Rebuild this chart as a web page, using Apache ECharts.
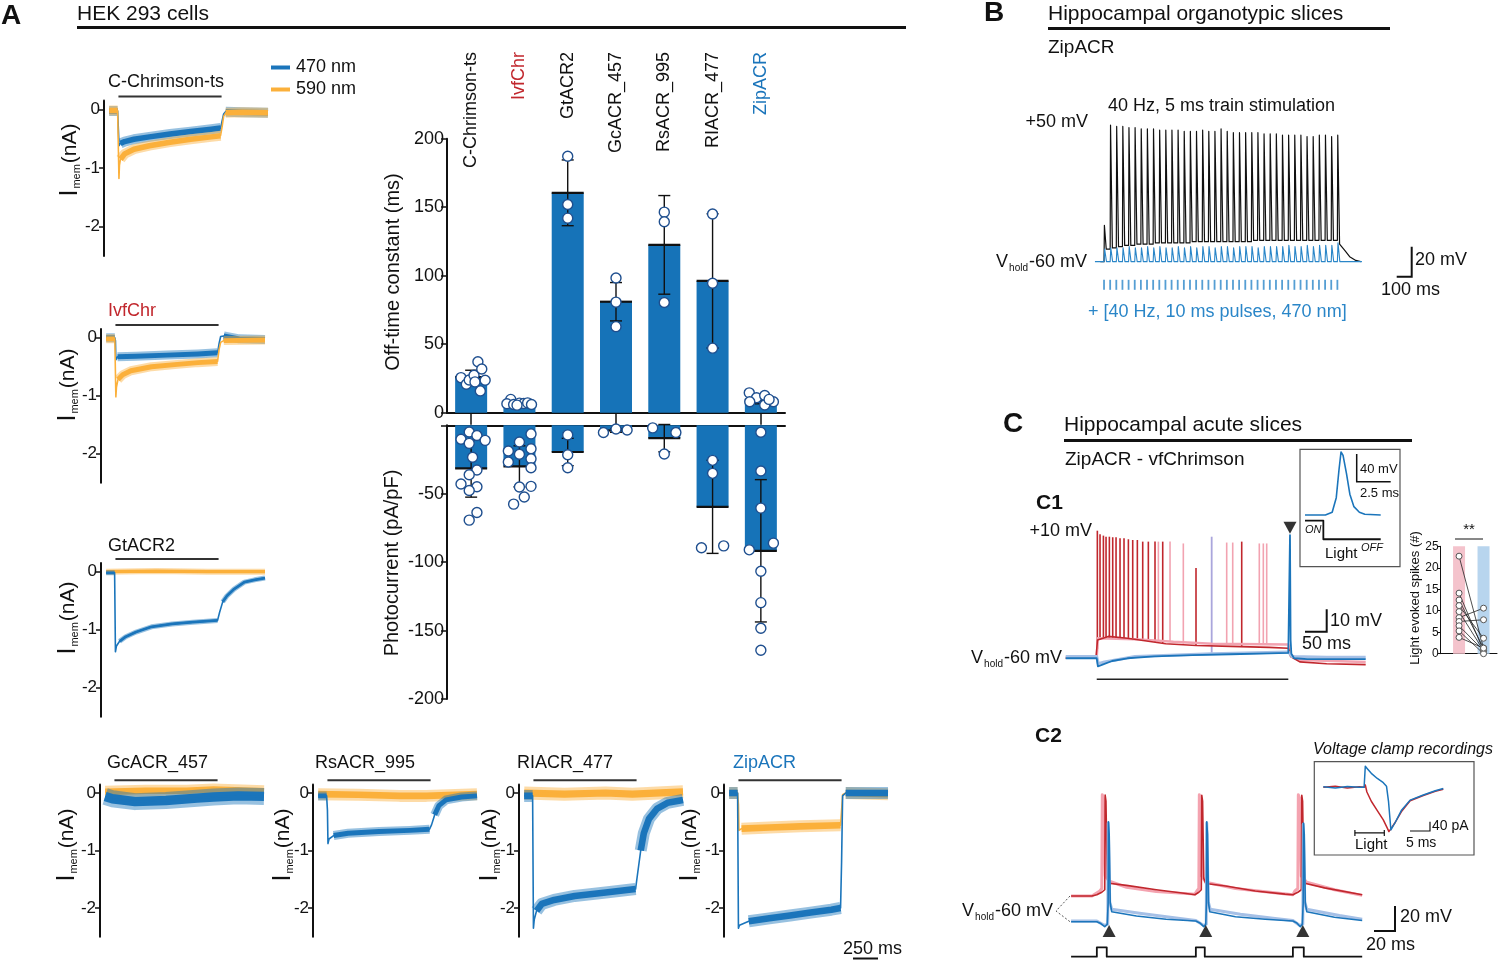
<!DOCTYPE html>
<html>
<head>
<meta charset="utf-8">
<script src="https://cdn.jsdelivr.net/npm/echarts@6/dist/echarts.min.js"></script>
<style>
  html, body { margin: 0; padding: 0; background: #fff; }
  #chart { width: 1500px; height: 961px; }
</style>
</head>
<body>
<div id="chart"></div>
<script>
// ---------- A: HEK 293 photocurrent traces, [ms from light onset, nA] ----------
const chrimsonBlue = [[-90,-0.03],[-8,-0.03],[0,-0.05],[6,-0.62],[20,-0.58],[60,-0.55],[150,-0.51],[300,-0.47],[500,-0.42],[700,-0.38],[900,-0.34],[990,-0.32],[1005,-0.2],[1020,-0.08],[1040,-0.04],[1200,-0.05],[1450,-0.06]];
const chrimsonOrange = [[-90,-0.02],[-8,-0.02],[0,-0.05],[5,-1.18],[10,-0.95],[20,-0.85],[60,-0.76],[150,-0.68],[300,-0.62],[500,-0.56],[700,-0.51],[900,-0.47],[990,-0.45],[1005,-0.3],[1020,-0.12],[1040,-0.06],[1200,-0.05],[1450,-0.06]];
const ivfBlue = [[-90,0],[-6,0],[0,-0.05],[4,-0.38],[20,-0.33],[200,-0.32],[500,-0.3],[800,-0.28],[990,-0.26],[1005,-0.1],[1020,0.02],[1050,0.03],[1200,-0.02],[1450,-0.03]];
const ivfOrange = [[-90,-0.02],[-6,-0.02],[0,-0.05],[4,-1.02],[10,-0.85],[25,-0.72],[70,-0.64],[150,-0.57],[350,-0.5],[600,-0.46],[800,-0.43],[990,-0.41],[1005,-0.2],[1020,-0.08],[1050,-0.05],[1450,-0.04]];
const gtBlue = [[-90,-0.02],[-8,-0.02],[0,-1.38],[10,-1.28],[40,-1.2],[100,-1.12],[200,-1.04],[350,-0.95],[550,-0.9],[750,-0.87],[990,-0.84],[1010,-0.7],[1040,-0.52],[1080,-0.42],[1150,-0.3],[1250,-0.18],[1350,-0.14],[1450,-0.11]];
const gtOrange = [[-90,0],[400,0.01],[900,0],[1450,0]];
const gcBlue = [[-90,-0.06],[-20,-0.1],[200,-0.15],[500,-0.13],[800,-0.09],[960,-0.07],[1200,-0.05],[1450,-0.06]];
const gcOrange = [[-90,0.02],[300,0.04],[700,0.04],[960,0.06],[1450,0.03]];
const rsBlue = [[-90,-0.05],[-8,-0.05],[0,-0.3],[5,-0.88],[15,-0.8],[60,-0.74],[200,-0.7],[500,-0.67],[800,-0.65],[990,-0.63],[1010,-0.55],[1040,-0.38],[1080,-0.22],[1150,-0.12],[1300,-0.07],[1450,-0.05]];
const rsOrange = [[-90,-0.02],[300,-0.03],[700,-0.05],[960,-0.05],[1450,-0.02]];
const rlBlue = [[-90,-0.05],[-8,-0.05],[0,-2.35],[8,-2.2],[30,-2.05],[80,-1.93],[200,-1.86],[400,-1.79],[700,-1.73],[990,-1.67],[1010,-1.4],[1040,-1.0],[1070,-0.7],[1120,-0.45],[1200,-0.27],[1300,-0.17],[1450,-0.12]];
const rlOrange = [[-90,0],[300,-0.02],[700,0],[960,-0.02],[1450,0.02]];
const zipBlue = [[-90,0],[-8,0],[0,-2.35],[10,-2.3],[100,-2.23],[300,-2.18],[500,-2.13],[700,-2.08],[900,-2.03],[990,-2.0],[1000,-1.2],[1010,-0.05],[1040,0],[1450,0]];
const zipOrange = [[-90,0],[-8,0],[0,-0.2],[5,-0.65],[30,-0.62],[300,-0.6],[600,-0.58],[990,-0.56],[1000,-0.3],[1010,-0.03],[1040,0],[1450,-0.02]];

// ---------- A: bar chart ----------
const constructs = ['C-Chrimson-ts', 'IvfChr', 'GtACR2', 'GcACR_457', 'RsACR_995', 'RIACR_477', 'ZipACR'];
const offMean = [26, 7, 160.5, 81, 122.5, 96.2, 9.5];
const offSd = [5, 1.5, 24, 14, 36, 49, 3];
// single cells: [category offset, value]
const offCells = [
  [[-0.21,25.6],[-0.1,20.8],[-0.04,23.9],[0.06,27.3],[0.08,22.5],[0.14,37.2],[0.19,15.9],[0.22,31.9],[0.29,23.7]],
  [[-0.18,9.7],[-0.26,6.5],[-0.12,6],[0,7],[0.09,6.7],[0.17,7.2],[0.25,6],[-0.05,5.5]],
  [[0,187.2],[0,152],[0,142]],
  [[0,98.3],[0,80.7],[0,62.8]],
  [[0,146.4],[0,139.4],[0,80.4]],
  [[0,145],[0,94.5],[0,47.1]],
  [[-0.24,14.5],[-0.09,10.9],[0.08,12.6],[0.26,8],[0.08,5.6],[-0.23,8],[0.17,9.7]]
];
const photoMean = [-31.5, -30, -19.5, -3.8, -9.4, -59.6, -91.7];
const photoSd = [21, 15, 10, 1.3, 10, 34, 52];
const photoCells = [
  [[-0.04,-4.9],[0.12,-7.5],[-0.21,-10.2],[0.29,-11],[-0.04,-13.2],[0.03,-23.4],[0.12,-32.7],[-0.04,-36.1],[-0.21,-42.9],[0.12,-44.9],[-0.04,-47.6],[0.12,-63.7],[-0.04,-69.3]],
  [[0.24,-6.3],[0,-12.2],[-0.23,-18.8],[0.24,-17.1],[0,-21.2],[0.24,-24.4],[-0.23,-26.8],[0.24,-31],[0,-45.1],[0.24,-44.6],[0.1,-52.4],[-0.12,-57.6]],
  [[0,-7],[0,-21.5],[0,-31]],
  [[-0.26,-5.3],[0,-2.7],[0.23,-3.4]],
  [[-0.24,-1.9],[0.24,-5.3],[0,-21]],
  [[0,-25.6],[0,-35.1],[-0.23,-89.5],[0.23,-88.1]],
  [[0,-5.1],[0,-33.4],[0,-60.5],[-0.24,-91],[0.26,-86.1],[0,-106.6],[0,-129.6],[0,-148.3],[0,-164.4]]
];

// ---------- B: organotypic slice, 40 Hz train (ms, mV) ----------
const bPulseTimes = [0,25,50,75,100,125,150,175,200,225,250,275,300,325,350,375,400,425,450,475,500,525,550,575,600,625,650,675,700,725,750,775,800,825,850,875,900,925,950];
const bPeaks = [-31,49,48,48,47,47,46,46,46,45,45,45,45,44,44,44,45,44,44,46,44,43,43,43,43,43,42,42,42,41,41,41,41,40,40,41,41,40,41];
const bTroughs = [-60,-50,-49,-48,-47,-47,-46,-46,-46,-45,-45,-45,-45,-45,-45,-44,-44,-44,-44,-44,-44,-44,-44,-44,-44,-43,-43,-43,-43,-43,-43,-43,-43,-43,-43,-43,-43,-43,-43];
const bTail = [[965,-46],[980,-51],[1000,-56],[1025,-59],[1045,-60]];
const bBluePeaks = [-50,-49,-49,-49,-48,-49,-49,-48,-49,-48,-49,-49,-48,-49,-48,-49,-48,-48,-49,-48,-48,-49,-48,-48,-48,-49,-48,-48,-48,-48,-47,-48,-48,-47,-48,-47,-47,-47,-45];
const bBlueRest = -60;

// ---------- C1: acute slice, 500 ms light (ms, mV) ----------
const c1RedBase = [[-81,-60],[-2,-60],[2,-50],[30,-48],[80,-49],[130,-50.5],[180,-52],[260,-53],[350,-53.5],[450,-54],[500,-54.5],[506,-59],[530,-62],[600,-63],[702,-63.5]];
// [t, spike foot, spike peak]
const c1RedSpikes = [[1.6,-55,10],[8.6,-50,8],[17.4,-49,7.3],[24.3,-49,6.7],[33,-49,6.7],[41.7,-49,6.4],[50.4,-49,6.4],[60.8,-49,5.8],[71.2,-49,5.8],[82.6,-49,5.3],[93.9,-50,4.9],[106,-50,4.9],[120,-50.5,4],[134.7,-50.5,4],[152.1,-51,4],[172.2,-52,4],[259.1,-53,-10.5],[378.4,-53.5,4]];
const c1PinkBase = [[-81,-59.5],[0,-59.5],[3,-49],[100,-49.5],[200,-51],[300,-52],[500,-52.5],[506,-58],[530,-61],[702,-62]];
const c1PinkSpikes = [[160.9,-51,4],[191.3,-51,4],[226,-52,3],[339.2,-52,3.5],[354.9,-52,3.5],[424.3,-52.5,3],[434.8,-52.5,3],[443.6,-52.5,3]];
const c1LavenderSpikes = [[300,-57,6.7]];
const c1BlueLight = [[-81,-59],[0,-59],[4,-63],[20,-62],[100,-59],[300,-57.5],[500,-56.5],[510,-59],[600,-59.5],[702,-59.5]];
const c1Blue = [[-81,-60],[0,-60],[3,-64.5],[15,-63.5],[40,-61.5],[80,-60],[150,-59],[250,-58.3],[350,-57.8],[450,-57.3],[500,-57],[502,-56],[504.4,7.6],[506,-50],[508,-57.5],[515,-60],[550,-60.5],[702,-60.5]];
const c1InsetSpike = [[0,-60],[1.5,-60],[2,-56],[2.3,-35],[2.5,5],[2.65,31],[2.8,26],[3.05,0],[3.3,-30],[3.6,-48],[4,-56],[4.4,-59],[5.57,-60]];
const c1InsetLight = [[0,-68],[1.35,-68],[1.35,-95],[5.57,-95]];
// light evoked spikes per cell, paired vfChrimson -> ZipACR
const spikesVf = [22.7, 14.1, 12.5, 11.2, 9.8, 8.4, 7.5, 6.5, 5.3, 3.8];
const spikesZip = [1.3, 0.7, 1.3, 3.6, 0.7, 10.6, 7.9, 0.7, 0, 1.3];

// ---------- C2: 10 Hz pulses (ms, mV) ----------
const c2Red = [[-26,-60],[-5,-60],[0,-59],[5,-57],[8,-55],[8.4,20.8],[9.2,16],[10.5,-46],[12,-49.8],[30,-51.5],[60,-55],[90,-58],[99,-59],[103,-57],[105.5,-55],[106,20.5],[106.8,16],[108,-46],[110,-50],[130,-52],[160,-56],[190,-58.5],[198,-59],[203,-57],[206.5,-55],[207,20.5],[207.8,16],[209,-46],[211,-50],[230,-53.5],[268,-59]];
const c2Pink = [[-26,-60],[-5,-60],[3,-56],[5,-54],[5.5,21],[6.5,18],[8.5,-44],[12,-48],[30,-53],[60,-56.5],[99,-58.5],[101,-56],[103,-54],[103.5,21],[104.5,18],[106,-44],[110,-49],[140,-54],[198,-59],[200,-56],[203,-54],[203.5,21],[205,18],[206.5,-44],[212,-49],[240,-55],[268,-59.5]];
const c2Blue = [[-26,-60],[0,-60],[4,-61.5],[8,-64],[10.5,-62],[11.4,-45],[11.7,20],[12.5,10],[13.5,-45],[15,-52],[40,-55.5],[70,-58],[100,-59.5],[104,-61],[108,-64],[110,-62],[110.7,-45],[111,20],[111.8,10],[112.8,-45],[114,-52],[140,-56],[170,-58],[198,-59.5],[202,-61],[205.5,-64],[207.5,-62],[208.4,-45],[208.7,19],[209.5,10],[210.5,-45],[212,-52],[240,-56.5],[268,-59]];
const c2BlueLight = [[-26,-59.5],[0,-59.5],[8,-63],[11,-62],[11.5,19],[13,-44],[15,-50],[45,-53.5],[80,-57],[100,-59],[108,-63],[110.5,-62],[111,19],[112.5,-44],[114.5,-50],[145,-54],[180,-57.5],[198,-59],[205,-63],[208,-62],[208.5,18],[210,-44],[212,-50],[245,-55],[268,-58]];
const c2LightSteps = [[-26,-88],[0,-88],[0,-80.5],[10,-80.5],[10,-88],[100,-88],[100,-80.5],[109,-80.5],[109,-88],[198,-88],[198,-80.5],[209,-80.5],[209,-88],[268,-88]];
const c2SpikeMarks = [12.4, 110, 208];
// voltage clamp inset (ms, pA)
const vcBlue = [[0,2],[3,-3],[6,3],[9,0],[10.2,0],[10.5,90],[11,80],[12,60],[13.5,38],[15,20],[15.8,5],[16.3,-60],[16.9,-183],[18,-150],[19.5,-100],[21.7,-55],[25,-33],[28,-15],[30,-5]];
const vcRed = [[0,0],[3,5],[6,-3],[9,2],[10.2,0],[10.5,10],[10.9,-20],[12,-60],[13.5,-100],[15,-140],[16,-175],[16.4,-190],[17,-175],[18,-150],[19.5,-105],[21.7,-58],[25,-35],[28,-17],[30,-8]];
const vcLight = [[7.9,-196],[15.25,-196]];

// ---------- styling ----------
const FONT = '"Liberation Sans", Arial, sans-serif';
const BLUE = '#1b75bb';
const ORANGE = '#fbb03b';
const RED = '#c1272d';
const INK = '#111';

const grids = [], xAxes = [], yAxes = [], series = [], graphics = [];

function addGrid(left, top, width, height, xOpt, yOpt) {
  const g = grids.length;
  grids.push({ left, top, width, height, outerBoundsMode: 'none' });
  xAxes.push(Object.assign({ gridIndex: g, type: 'value', show: false, splitLine: { show: false } }, xOpt));
  yAxes.push(Object.assign({ gridIndex: g, type: 'value', show: false, splitLine: { show: false } }, yOpt));
  return { g, x: xAxes.length - 1, y: yAxes.length - 1 };
}

function trace(ax, data, color, width, extra) {
  series.push(Object.assign({
    type: 'line', xAxisIndex: ax.x, yAxisIndex: ax.y, data,
    symbol: 'none', showSymbol: false, silent: true, z: 3,
    lineStyle: { color, width, join: 'round', cap: 'butt' }
  }, extra));
}

function spikes(ax, data, color, width) {
  series.push({
    type: 'custom', xAxisIndex: ax.x, yAxisIndex: ax.y, data, silent: true, z: 3,
    renderItem: (p, api) => {
      const a = api.coord([api.value(0), api.value(1)]);
      const b = api.coord([api.value(0), api.value(2)]);
      return { type: 'line', shape: { x1: a[0], y1: a[1], x2: b[0], y2: b[1] }, style: { stroke: color, lineWidth: width } };
    }
  });
}

// noisy plateau band: drop the fast on/off transitions so they stay thin
function band(data) {
  const out = [];
  let open = true;
  data.forEach(p => {
    const fast = (p[0] > -6 && p[0] < 18) || (p[0] > 992 && p[0] < 1035);
    if (fast) { if (open) out.push([p[0], '-']); open = false; }
    else { out.push(p); open = true; }
  });
  return out;
}

function label(x, y, text, o = {}) {
  return {
    type: 'text', x, y, rotation: o.rotation || 0, z: 100, silent: true,
    style: {
      text, fill: o.color || INK, fontFamily: FONT, fontSize: o.size || 18,
      fontWeight: o.weight || 'normal', fontStyle: o.italic ? 'italic' : 'normal',
      align: o.align || 'left', verticalAlign: o.valign || 'middle', rich: o.rich
    }
  };
}

function subLabel(x, y, main, sub, rest, o = {}) {
  const size = o.size || 18;
  return label(x, y, '{m|' + main + '}{s|' + sub + '}{r|' + rest + '}', Object.assign({}, o, {
    rich: {
      m: { fontSize: size, fontFamily: FONT, fill: INK },
      s: { fontSize: 10, fontFamily: FONT, fill: INK, verticalAlign: 'bottom', padding: [12, 1, 0, 1] },
      r: { fontSize: size, fontFamily: FONT, fill: INK }
    }
  }));
}

function line(x1, y1, x2, y2, width, color) {
  return { type: 'line', z: 100, silent: true, shape: { x1, y1, x2, y2 }, style: { stroke: color || INK, lineWidth: width || 2 } };
}
function poly(points, width, extra) {
  return { type: 'polyline', z: 100, silent: true, shape: { points }, style: Object.assign({ stroke: INK, lineWidth: width || 2, fill: null }, extra) };
}
function box(x, y, w, h) {
  return { type: 'rect', z: 1, silent: true, shape: { x, y, width: w, height: h }, style: { fill: null, stroke: '#555', lineWidth: 1.2 } };
}

// ================= Panel A: traces =================
const hekPanels = [
  { name: 'C-Chrimson-ts', blue: chrimsonBlue, orange: chrimsonOrange },
  { name: 'IvfChr', blue: ivfBlue, orange: ivfOrange },
  { name: 'GtACR2', blue: gtBlue, orange: gtOrange },
  { name: 'GcACR_457', blue: gcBlue, orange: gcOrange },
  { name: 'RsACR_995', blue: rsBlue, orange: rsOrange },
  { name: 'RIACR_477', blue: rlBlue, orange: rlOrange },
  { name: 'ZipACR', blue: zipBlue, orange: zipOrange }
];
const hekLayout = [
  { axisX: 104, zeroY: 109.3, s: 58.7, titleX: 108, titleY: 82, labX: 70, labY: 160, bw: [10, 10], orangeTop: true },
  { axisX: 101, zeroY: 337.7, s: 58, titleX: 108, titleY: 311, labX: 68, labY: 385, bw: [9, 9], orangeTop: true, color: RED },
  { axisX: 101, zeroY: 571.7, s: 58, titleX: 108, titleY: 546, labX: 68, labY: 618, bw: [5, 6] },
  { axisX: 100, zeroY: 793, s: 57.5, titleX: 107, titleY: 763, labX: 67, labY: 845, bw: [17, 12] },
  { axisX: 313, zeroY: 793, s: 57.5, titleX: 315, titleY: 763, labX: 283, labY: 845, bw: [9, 12] },
  { axisX: 519, zeroY: 793, s: 57.5, titleX: 517, titleY: 763, labX: 490, labY: 845, bw: [12, 13] },
  { axisX: 724, zeroY: 793, s: 57.5, titleX: 733, titleY: 763, labX: 690, labY: 845, bw: [12, 12], color: BLUE }
];

hekPanels.forEach((p, i) => {
  const L = hekLayout[i];
  const ax = addGrid(L.axisX, L.zeroY - 0.15 * L.s, 164, 2.65 * L.s,
    { min: -140, max: 1450 },
    {
      show: true, min: -2.5, max: 0.15,
      axisLine: { show: true, onZero: false, lineStyle: { color: INK, width: 2 } },
      axisTick: { show: true, customValues: [0, -1, -2], length: 5, lineStyle: { color: INK, width: 1.5 } },
      axisLabel: { show: true, customValues: [0, -1, -2], fontSize: 17, color: INK, margin: 4, fontFamily: FONT }
    });
  // light-on bar above the trace
  trace(ax, [[0, 0.22], [1000, 0.22]], '#333', 2, { clip: false });
  const order = L.orangeTop
    ? [['blue', BLUE, L.bw[0]], ['orange', ORANGE, L.bw[1]]]
    : [['orange', ORANGE, L.bw[1]], ['blue', BLUE, L.bw[0]]];
  order.forEach(([k, c, w]) => {
    const b = band(p[k]);
    trace(ax, b, c, w, { lineStyle: { color: c, width: w, opacity: 0.45, join: 'round', cap: 'butt' } });
    trace(ax, b, c, w * 0.55);
    trace(ax, p[k], c, 1.6);
  });
  graphics.push(label(L.titleX, L.titleY, p.name, { color: L.color }));
  graphics.push(label(L.labX, L.labY, '{i|I}{s|mem}{n|(nA)}', {
    rotation: Math.PI / 2, align: 'center',
    rich: {
      i: { fontSize: 25, fontFamily: FONT, fill: INK },
      s: { fontSize: 11, fontFamily: FONT, fill: INK, verticalAlign: 'bottom', padding: [14, 1, 0, 1] },
      n: { fontSize: 21, fontFamily: FONT, fill: INK }
    }
  }));
});

// ================= Panel A: bar chart =================
const barLeft = 447, barWidthPx = 338;
const topAx = addGrid(barLeft, 138.7, barWidthPx, 274,
  {
    type: 'category', show: true, data: constructs, boundaryGap: true,
    axisLine: { show: true, lineStyle: { color: INK, width: 2 } },
    axisTick: { show: true, alignWithLabel: true, length: 12, lineStyle: { color: INK, width: 1.5 } },
    axisLabel: { show: false }
  },
  {
    show: true, min: 0, max: 200, interval: 50,
    axisLine: { show: true, onZero: false, lineStyle: { color: INK, width: 2 } },
    axisTick: { show: true, length: 6, lineStyle: { color: INK, width: 1.5 } },
    axisLabel: { fontSize: 18, color: INK, margin: 3, fontFamily: FONT }
  });
xAxes.push({ gridIndex: topAx.g, type: 'value', show: false, min: -0.5, max: 6.5 });
const topCellAxis = xAxes.length - 1;

const botAx = addGrid(barLeft, 425.3, barWidthPx, 273.7,
  {
    type: 'category', show: true, position: 'top', data: constructs, boundaryGap: true,
    axisLine: { show: true, onZero: false, lineStyle: { color: INK, width: 2 } },
    axisTick: { show: false }, axisLabel: { show: false }
  },
  {
    show: true, min: -200, max: 0, interval: 50,
    axisLine: { show: true, onZero: false, lineStyle: { color: INK, width: 2 } },
    axisTick: { show: true, length: 6, lineStyle: { color: INK, width: 1.5 } },
    axisLabel: { fontSize: 18, color: INK, margin: 3, fontFamily: FONT, formatter: v => (v === 0 ? '' : v) }
  });
xAxes.push({ gridIndex: botAx.g, type: 'value', show: false, min: -0.5, max: 6.5 });
const botCellAxis = xAxes.length - 1;

function barBlock(ax, cellAxis, means, sds, cells) {
  series.push({
    type: 'bar', xAxisIndex: ax.x, yAxisIndex: ax.y, data: means, barWidth: 32, z: 2, silent: true,
    itemStyle: { color: '#1673b8' }
  });
  series.push({
    type: 'custom', xAxisIndex: ax.x, yAxisIndex: ax.y, z: 3, silent: true,
    data: means.map((m, i) => [i, m, m - sds[i], m + sds[i]]),
    renderItem: (params, api) => {
      const i = api.value(0);
      const c = api.coord([i, api.value(1)]);
      const lo = api.coord([i, api.value(2)]);
      const hi = api.coord([i, api.value(3)]);
      const s = { stroke: INK, lineWidth: 1.4 };
      return {
        type: 'group', children: [
          { type: 'line', shape: { x1: lo[0], y1: lo[1], x2: hi[0], y2: hi[1] }, style: s },
          { type: 'line', shape: { x1: lo[0] - 6, y1: lo[1], x2: lo[0] + 6, y2: lo[1] }, style: s },
          { type: 'line', shape: { x1: hi[0] - 6, y1: hi[1], x2: hi[0] + 6, y2: hi[1] }, style: s },
          { type: 'line', shape: { x1: c[0] - 16, y1: c[1], x2: c[0] + 16, y2: c[1] }, style: { stroke: INK, lineWidth: 2.2 } }
        ]
      };
    }
  });
  series.push({
    type: 'scatter', xAxisIndex: cellAxis, yAxisIndex: ax.y, z: 4, silent: true,
    data: cells.flatMap((list, i) => list.map(c => [i + c[0], c[1]])),
    symbol: 'circle', symbolSize: 10,
    itemStyle: { color: '#fff', borderColor: '#1f4f8f', borderWidth: 1.4, opacity: 1 }
  });
}
barBlock(topAx, topCellAxis, offMean, offSd, offCells);
barBlock(botAx, botCellAxis, photoMean, photoSd, photoCells);

const nameColors = { IvfChr: RED, ZipACR: BLUE };
constructs.forEach((c, i) => {
  const cx = barLeft + (i + 0.5) * barWidthPx / constructs.length;
  graphics.push(label(cx, 52, c, { rotation: Math.PI / 2, align: 'right', size: 18, color: nameColors[c] }));
});
graphics.push(label(393, 272, 'Off-time constant (ms)', { rotation: Math.PI / 2, align: 'center', size: 20 }));
graphics.push(label(392, 563, 'Photocurrent (pA/pF)', { rotation: Math.PI / 2, align: 'center', size: 20 }));

// A header, legend, time scale
graphics.push(label(1, 16, 'A', { size: 28, weight: 'bold' }));
graphics.push(label(77, 14, 'HEK 293 cells', { size: 21 }));
graphics.push(line(77, 27.5, 906, 27.5, 3));
graphics.push(line(271, 67.5, 290, 67.5, 4, BLUE));
graphics.push(label(296, 67, '470 nm', { size: 18 }));
graphics.push(line(271, 89.5, 290, 89.5, 4, ORANGE));
graphics.push(label(296, 89, '590 nm', { size: 18 }));
graphics.push(label(843, 949, '250 ms', { size: 18 }));
graphics.push(line(853, 958.5, 878, 958.5, 2));

// ================= Panel B =================
const bAx = addGrid(1094.2, 117.7, 270.2, 179, { min: -40, max: 1060 }, { min: -88, max: 55 });
const bBlack = [[-15, -60]];
bPulseTimes.forEach((t, i) => {
  const next = i + 1 < bTroughs.length ? bTroughs[i + 1] : bTail[0][1];
  bBlack.push([t, bTroughs[i]], [t + 1.5, bPeaks[i]], [t + 9, next]);
});
bBlack.push(...bTail);
const bBlue = [[-37, bBlueRest]];
bPulseTimes.forEach((t, i) => bBlue.push([t, bBlueRest], [t + 2.5, bBluePeaks[i]], [t + 10, bBlueRest]));
bBlue.push([1050, bBlueRest]);
trace(bAx, bBlack, '#111', 1.2);
trace(bAx, bBlue, '#2a86c8', 1.1);
series.push({
  type: 'scatter', xAxisIndex: bAx.x, yAxisIndex: bAx.y, silent: true, z: 3,
  data: bPulseTimes.map(t => [t, -78.5]), symbol: 'rect', symbolSize: [1.8, 10],
  itemStyle: { color: '#2a86c8' }
});

graphics.push(label(984, 13, 'B', { size: 28, weight: 'bold' }));
graphics.push(label(1048, 14, 'Hippocampal organotypic slices', { size: 21 }));
graphics.push(line(1048, 28.5, 1390, 28.5, 3));
graphics.push(label(1048, 48, 'ZipACR', { size: 19 }));
graphics.push(label(1108, 106, '40 Hz, 5 ms train stimulation', { size: 18 }));
graphics.push(label(1088, 122, '+50 mV', { size: 18, align: 'right' }));
graphics.push(subLabel(1087, 262, 'V', 'hold', '-60 mV', { align: 'right', size: 18 }));
graphics.push(poly([[1396.7, 276.7], [1411.7, 276.7], [1411.7, 246.7]], 2));
graphics.push(label(1415, 260, '20 mV', { size: 18 }));
graphics.push(label(1381, 290, '100 ms', { size: 18 }));
graphics.push(label(1088, 312, '+ [40 Hz, 10 ms pulses, 470 nm]', { size: 18, color: '#2a86c8' }));

// ================= Panel C1 =================
const c1Ax = addGrid(1065.7, 523.4, 300, 162.2, { min: -81, max: 702 }, { min: -75, max: 14 });
trace(c1Ax, c1PinkBase, '#f2a3b1', 2.5);
spikes(c1Ax, c1PinkSpikes, '#f2a3b1', 1.6);
spikes(c1Ax, c1LavenderSpikes, '#aaa6dc', 1.8);
trace(c1Ax, c1RedBase, RED, 1.6);
spikes(c1Ax, c1RedSpikes, RED, 1.6);
trace(c1Ax, c1BlueLight, '#a6c0e6', 3);
trace(c1Ax, c1Blue, BLUE, 1.8);
trace(c1Ax, [[0, -71.5], [500, -71.5]], '#222', 1.5);
series.push({
  type: 'scatter', xAxisIndex: c1Ax.x, yAxisIndex: c1Ax.y, silent: true, z: 4,
  data: [[504.4, 11.6]], symbol: 'triangle', symbolRotate: 180, symbolSize: [13, 12],
  itemStyle: { color: '#000' }
});

// inset: single light-evoked spike
const c1In = addGrid(1305, 449.2, 75.7, 93.5, { min: 0, max: 5.57 }, { min: -100, max: 35 });
trace(c1In, c1InsetSpike, BLUE, 1.6);
trace(c1In, c1InsetLight, '#111', 1.8);

// light evoked spikes (#)
const c1Bar = addGrid(1440.7, 546.3, 56.3, 107.4,
  {
    show: true, min: -0.75, max: 1.55,
    axisLine: { show: true, onZero: false, lineStyle: { color: INK, width: 1 } },
    axisTick: { show: false }, axisLabel: { show: false }
  },
  {
    show: true, min: 0, max: 25, interval: 5,
    axisLine: { show: true, onZero: false, lineStyle: { color: INK, width: 1 } },
    axisTick: { show: true, length: 3, lineStyle: { color: INK, width: 1 } },
    axisLabel: { fontSize: 12, color: INK, margin: 2, fontFamily: FONT }
  });
series.push({ type: 'bar', xAxisIndex: c1Bar.x, yAxisIndex: c1Bar.y, data: [[0, 25]], barWidth: 12, silent: true, z: 1, itemStyle: { color: '#f4c3cc' } });
series.push({ type: 'bar', xAxisIndex: c1Bar.x, yAxisIndex: c1Bar.y, data: [[1, 25]], barWidth: 12, silent: true, z: 1, barGap: '-100%', itemStyle: { color: '#b8d5ee' } });
spikesVf.forEach((v, i) => {
  series.push({
    type: 'line', xAxisIndex: c1Bar.x, yAxisIndex: c1Bar.y, silent: true, z: 3,
    data: [[0, v], [1, spikesZip[i]]], symbol: 'circle', symbolSize: 6, showSymbol: true,
    lineStyle: { color: '#222', width: 0.8 },
    itemStyle: { color: '#fff', borderColor: '#555', borderWidth: 1 }
  });
});

graphics.push(label(1003, 424, 'C', { size: 28, weight: 'bold' }));
graphics.push(label(1064, 425, 'Hippocampal acute slices', { size: 21 }));
graphics.push(line(1064, 440.5, 1412, 440.5, 3));
graphics.push(label(1065, 460, 'ZipACR - vfChrimson', { size: 19 }));
graphics.push(label(1036, 503, 'C1', { size: 21, weight: 'bold' }));
graphics.push(label(1092, 531, '+10 mV', { size: 18, align: 'right' }));
graphics.push(subLabel(1062, 658, 'V', 'hold', '-60 mV', { align: 'right', size: 18 }));
graphics.push(box(1300, 449.3, 100, 117.4));
graphics.push(poly([[1356.7, 454], [1356.7, 481.7], [1390.7, 481.7]], 1.5));
graphics.push(label(1360, 469, '40 mV', { size: 13 }));
graphics.push(label(1360, 493, '2.5 ms', { size: 13 }));
graphics.push(label(1305, 530, 'ON', { size: 11, italic: true }));
graphics.push(label(1325, 554, 'Light', { size: 15 }));
graphics.push(label(1361, 548, 'OFF', { size: 11, italic: true }));
graphics.push(poly([[1305, 631.7], [1326.7, 631.7], [1326.7, 609.3]], 2));
graphics.push(label(1330, 621, '10 mV', { size: 18 }));
graphics.push(label(1302, 644, '50 ms', { size: 18 }));
graphics.push(label(1415, 598, 'Light evoked spikes (#)', { rotation: Math.PI / 2, align: 'center', size: 13 }));
graphics.push(label(1469, 530, '**', { size: 15, align: 'center' }));
graphics.push(line(1455, 539, 1483, 539, 1));

// ================= Panel C2 =================
const c2RedAx = addGrid(1070.7, 789.75, 291.5, 118.75, { min: -26.4, max: 268 }, { min: -70, max: 25 });
const c2BlueAx = addGrid(1070.7, 815.45, 291.5, 143.75, { min: -26.4, max: 268 }, { min: -90, max: 25 });
trace(c2RedAx, c2Pink, '#f4a3b0', 3);
trace(c2RedAx, c2Red, RED, 1.6);
trace(c2BlueAx, c2BlueLight, '#a6c0e6', 3);
trace(c2BlueAx, c2Blue, BLUE, 1.6);
trace(c2BlueAx, c2LightSteps, '#111', 1.8);
series.push({
  type: 'scatter', xAxisIndex: c2BlueAx.x, yAxisIndex: c2BlueAx.y, silent: true, z: 4,
  data: c2SpikeMarks.map(t => [t, -67.5]), symbol: 'triangle', symbolSize: [13, 12],
  itemStyle: { color: '#000' }
});

// inset: voltage clamp
const c2In = addGrid(1323.3, 764, 120, 69.9, { min: 0, max: 30 }, { min: -200, max: 100 });
trace(c2In, vcRed, RED, 1.5);
trace(c2In, vcBlue, BLUE, 1.5);
trace(c2In, vcLight, '#111', 1.2, { symbol: 'rect', showSymbol: true, symbolSize: [1.2, 6], itemStyle: { color: '#111' } });

graphics.push(label(1035, 736, 'C2', { size: 21, weight: 'bold' }));
graphics.push(label(1313, 750, 'Voltage clamp recordings', { size: 16, italic: true }));
graphics.push(box(1314.3, 761.7, 159.7, 93.3));
graphics.push(poly([[1410, 831], [1430, 831], [1430, 821.7]], 1.2));
graphics.push(label(1432, 826, '40 pA', { size: 14 }));
graphics.push(label(1406, 843, '5 ms', { size: 14 }));
graphics.push(label(1355, 845, 'Light', { size: 15 }));
graphics.push(subLabel(1053, 911, 'V', 'hold', '-60 mV', { align: 'right', size: 18 }));
graphics.push(poly([[1070, 896], [1056, 911], [1070, 921.7]], 1, { stroke: '#555', lineDash: [2, 2] }));
graphics.push(poly([[1374, 931], [1395, 931], [1395, 906]], 2));
graphics.push(label(1400, 917, '20 mV', { size: 18 }));
graphics.push(label(1366, 945, '20 ms', { size: 18 }));

const chart = echarts.init(document.getElementById('chart'), null, { renderer: 'canvas' });
chart.setOption({
  backgroundColor: '#fff',
  animation: false,
  textStyle: { fontFamily: FONT },
  grid: grids,
  xAxis: xAxes,
  yAxis: yAxes,
  series: series,
  graphic: { elements: graphics }
});
</script>
</body>
</html>
